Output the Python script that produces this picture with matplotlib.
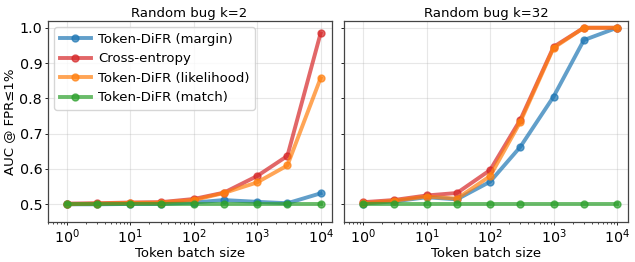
import numpy as np
import matplotlib
matplotlib.use("Agg")
import matplotlib.pyplot as plt

# token batch sizes
batch = [1, 3, 10, 30, 100, 300, 1000, 3000, 10000]

# Random bug k=2
k2_margin = [0.500, 0.500, 0.501, 0.501, 0.505, 0.512, 0.507, 0.503, 0.531]
k2_xent = [0.502, 0.503, 0.505, 0.506, 0.515, 0.533, 0.580, 0.637, 0.984]
k2_like = [0.500, 0.502, 0.504, 0.505, 0.512, 0.532, 0.562, 0.610, 0.857]
k2_match = [0.500, 0.500, 0.500, 0.500, 0.500, 0.500, 0.500, 0.500, 0.500]

# Random bug k=32
k32_margin = [0.502, 0.508, 0.520, 0.514, 0.564, 0.663, 0.805, 0.965, 1.000]
k32_xent = [0.506, 0.512, 0.525, 0.532, 0.597, 0.740, 0.946, 1.000, 1.000]
k32_like = [0.503, 0.510, 0.522, 0.516, 0.580, 0.734, 0.943, 1.000, 1.000]
k32_match = [0.500, 0.500, 0.500, 0.500, 0.500, 0.500, 0.500, 0.500, 0.500]

labels = ["Token-DiFR (margin)", "Cross-entropy", "Token-DiFR (likelihood)", "Token-DiFR (match)"]
colors = ["tab:blue", "tab:red", "tab:orange", "tab:green"]

fs = 9.5
tick_fs = 10.3
plt.rcParams["font.size"] = fs
plt.rcParams["axes.edgecolor"] = "#444444"

fig, axes = plt.subplots(1, 2, figsize=(6.35, 2.62), dpi=100, sharey=True)
fig.subplots_adjust(left=0.0751, right=0.989, top=0.921, bottom=0.1515, wspace=0.0444)

panels = [
    ("Random bug k=2", [k2_margin, k2_xent, k2_like, k2_match]),
    ("Random bug k=32", [k32_margin, k32_xent, k32_like, k32_match]),
]

for ax, (title, series) in zip(axes, panels):
    for vals, lab, col in zip(series, labels, colors):
        ax.plot(batch, vals, marker="o", markersize=5, linewidth=2.8,
                alpha=0.7, color=col, label=lab)
    ax.set_xscale("log")
    ax.set_xlim(0.5, 1.49e4)
    ax.set_ylim(0.449, 1.02)
    ax.set_yticks([0.5, 0.6, 0.7, 0.8, 0.9, 1.0])
    ax.grid(True, alpha=0.3)
    ax.set_title(title, fontsize=fs, pad=2.7)
    ax.set_xlabel("Token batch size", fontsize=fs, labelpad=1.0)
    ax.tick_params(which="major", length=2, width=0.6, pad=2, labelsize=tick_fs)
    ax.tick_params(axis="x", which="major", pad=1.5)
    ax.tick_params(which="minor", length=1.2, width=0.5)
    for sp in ax.spines.values():
        sp.set_linewidth(0.9)

axes[0].set_ylabel("AUC @ FPR\u22641%", fontsize=fs, labelpad=2.5)
axes[0].legend(loc="upper left", fontsize=fs, handlelength=2.4,
               handletextpad=0.5)

fig.savefig("out.png", dpi=100)
